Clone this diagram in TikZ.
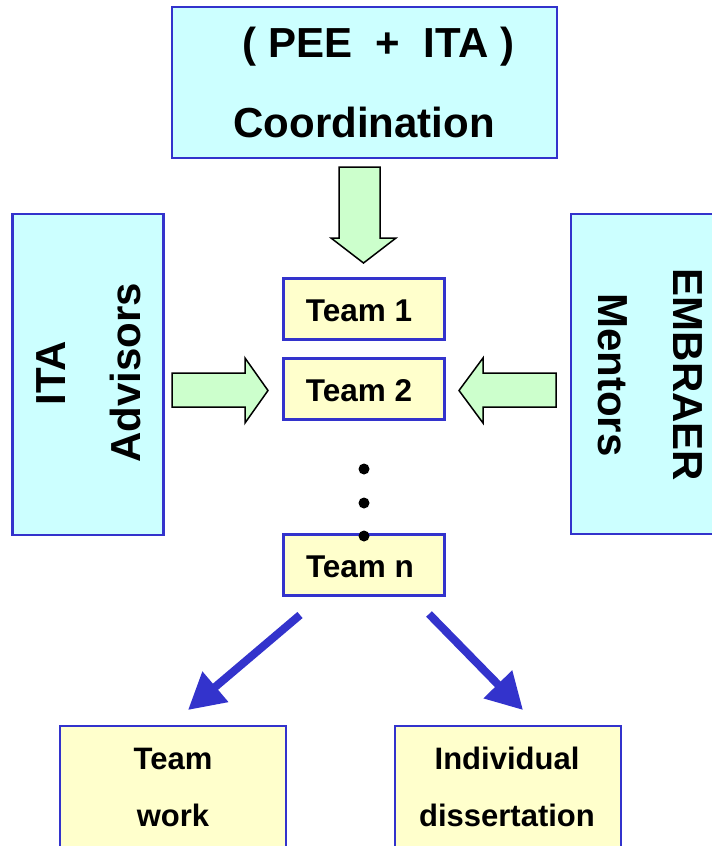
\documentclass[tikz,border=0pt]{standalone}
\usepackage{fontspec}
\setmainfont{Liberation Sans}
\usetikzlibrary{arrows.meta}
\definecolor{frameblue}{HTML}{3333CC}
\definecolor{paleCyan}{HTML}{CCFFFF}
\definecolor{paleYellow}{HTML}{FFFFCC}
\definecolor{paleGreen}{HTML}{CCFFCC}
\tikzset{
  cyanbox/.style={draw=frameblue, line width=2.6pt, fill=paleCyan, inner sep=0pt},
  teambox/.style={draw=frameblue, line width=2.6pt, fill=paleYellow, inner sep=0pt,
                  minimum width=161pt, minimum height=61pt},
  teamtext/.style={font=\fontsize{31.5}{31.5}\selectfont\bfseries, inner sep=0pt},
  outbox/.style={draw=frameblue, line width=2.6pt, fill=paleYellow, inner sep=0pt,
                 minimum width=226pt, minimum height=130pt},
  bigtext/.style={font=\fontsize{42}{75}\selectfont\bfseries, inner sep=0pt, align=center},
  outtext/.style={font=\fontsize{31}{57}\selectfont\bfseries, inner sep=0pt, align=center},
  blockarrow/.style={draw=black, line width=1.5pt, fill=paleGreen, line join=miter},
  flow/.style={draw=frameblue, line width=8pt, -{Triangle[length=36pt,width=38pt]}},
  dotmark/.style={circle, fill=black, inner sep=0pt, minimum size=11pt}
}
\begin{document}
\begin{tikzpicture}[x=1pt,y=-1pt]
  \useasboundingbox (0,0) rectangle (712,846);
  \begin{scope}
    \clip (0,0) rectangle (712,846);

    % coordination box
    \node[cyanbox, minimum width=385pt, minimum height=151pt] (coord) at (364.5,82.5) {};
    \node[bigtext] (peetxt) at (378.5,47) {(\ PEE\ \ +\ \ ITA\ )};
    \node[bigtext] (coordtxt) at (364,122) {Coordination};

    % side boxes
    \node[cyanbox, minimum width=151pt, minimum height=321pt] (ita) at (88,374.5) {};
    \node[bigtext, rotate=90] (itatxt) at (89,373) {ITA\\Advisors};
    \node[cyanbox, minimum width=160pt, minimum height=320pt] (emb) at (651,374) {};
    \node[bigtext, rotate=-90] (embtxt) at (650,375) {EMBRAER\\Mentors};

    % teams
    \node[teambox] (t1) at (364,309) {};
    \node[teamtext] (t1txt) at (359,311) {Team 1};
    \node[teambox] (t2) at (364,389) {};
    \node[teamtext] (t2txt) at (359,391) {Team 2};
    \node[teambox] (tn) at (364,565) {};
    \node[teamtext] (tntxt) at (360,567) {Team n};

    % ellipsis dots
    \node[dotmark] (d1) at (364,469) {};
    \node[dotmark] (d2) at (364,503) {};
    \node[dotmark] (d3) at (364,536) {};

    % block arrows feeding the teams
    \draw[blockarrow] (339,167) -- (380,167) -- (380,238) -- (396,238)
      -- (363.5,263) -- (331,238) -- (339,238) -- cycle;
    \draw[blockarrow] (172,373) -- (245,373) -- (245,358) -- (268,390.5)
      -- (245,423) -- (245,407) -- (172,407) -- cycle;
    \draw[blockarrow] (556,373) -- (483,373) -- (483,358) -- (459,390.5)
      -- (483,423) -- (483,407) -- (556,407) -- cycle;

    % outcomes
    \node[outbox] (work) at (173,791) {};
    \node[outtext] (worktxt) at (173,787) {Team\\work};
    \node[outbox] (diss) at (508,791) {};
    \node[outtext] (disstxt) at (507,787) {Individual\\dissertation};

    \coordinate (s1) at (300,615);
    \coordinate (e1) at (188,710);
    \coordinate (s2) at (429,614);
    \coordinate (e2) at (523,710);
    \draw[flow] (s1) -- (e1);
    \draw[flow] (s2) -- (e2);
  \end{scope}
\end{tikzpicture}
\end{document}
